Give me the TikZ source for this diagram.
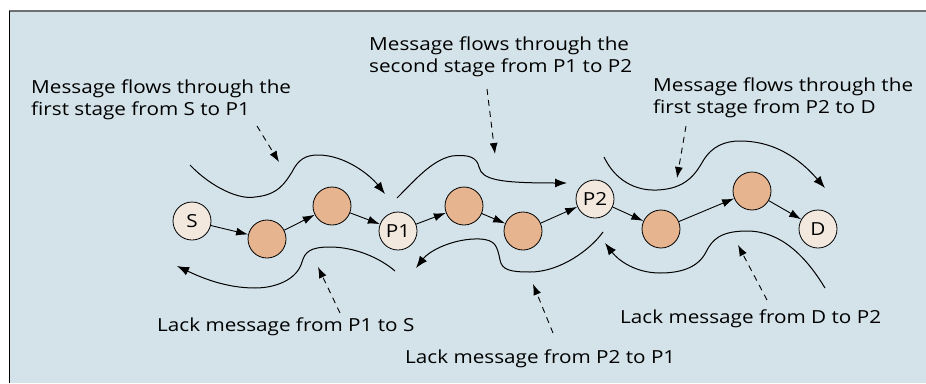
\documentclass[tikz,border=0pt]{standalone}
\usepackage{fontspec}
\setmainfont[FakeStretch=1.15]{Open Sans}
\usetikzlibrary{arrows.meta}
\definecolor{fondo}{HTML}{D4E3E9}
\definecolor{naranja}{HTML}{E6B48E}
\definecolor{crema}{HTML}{F2E8DE}
\definecolor{marco}{HTML}{6E7173}

\begin{document}
\begin{tikzpicture}[x=1pt, y=-1pt,
    nodo/.style={circle, draw, line width=0.8pt, minimum size=38pt, inner sep=0pt, font=\fontsize{18}{20}\selectfont},
    relevo/.style={nodo, fill=naranja},
    extremo/.style={nodo, fill=crema},
    flecha/.style={line width=0.9pt, -{Latex[length=12pt,width=8pt]}},
    curva/.style={line width=1pt, -{Latex[length=12pt,width=9pt]}},
    guia/.style={line width=0.9pt, dash pattern=on 6pt off 5pt, -{Latex[length=11pt,width=8pt]}},
    texto/.style={anchor=west, align=left, inner sep=0pt, font=\fontsize{18}{21.5}\selectfont}]
      %fondo
      \useasboundingbox (0,0) rectangle (926,383);
      \fill[fondo] (9,11) rectangle (926,383);
      \draw[marco, line width=2pt] (9,11) -- (926,11);
      \draw[line width=0.9pt] (9,11) -- (9,383);
      %nodos
      \node[extremo] (s) at (192,221) {S};
      \node[relevo] (a1) at (267,239) {};
      \node[relevo] (a2) at (332,206) {};
      \node[extremo] (p1) at (398,231) {P1};
      \node[relevo] (a3) at (464,206) {};
      \node[relevo] (a4) at (523,231) {};
      \node[extremo] (p2) at (595,199) {P2};
      \node[relevo] (a5) at (661,229) {};
      \node[relevo] (a6) at (752,191) {};
      \node[extremo] (d) at (818,229) {D};
      %camino
      \draw[flecha] (s) -- (a1);
      \draw[flecha] (a1) -- (a2);
      \draw[flecha] (a2) -- (p1);
      \draw[flecha] (p1) -- (a3);
      \draw[flecha] (a3) -- (a4);
      \draw[flecha] (a4) -- (p2);
      \draw[flecha] (p2) -- (a5);
      \draw[flecha] (a5) -- (a6);
      \draw[flecha] (a6) -- (d);
      %flujo del mensaje
      \draw[curva] (190,165) .. controls (212,188) and (240,200) .. (255,197) .. controls (278,195) and (285,183) .. (292,172) .. controls (298,160) and (305,155) .. (318,155) .. controls (345,155) and (370,175) .. (385,194);
      \draw[curva] (397,198) .. controls (415,180) and (432,160) .. (452,156) .. controls (470,154) and (477,158) .. (479,167) .. controls (482,180) and (500,183) .. (567,183);
      \draw[curva] (604,157) .. controls (615,180) and (635,191) .. (657,190) .. controls (685,189) and (695,175) .. (703,161) .. controls (712,146) and (725,141) .. (740,141) .. controls (780,141) and (805,165) .. (825,188);
      %acuses
      \draw[curva] (395,271) .. controls (380,258) and (355,247) .. (330,247) .. controls (310,247) and (305,252) .. (302,262) .. controls (297,280) and (275,288) .. (255,288) .. controls (225,288) and (200,277) .. (177,266);
      \draw[curva] (603,232) .. controls (590,250) and (560,272) .. (530,272) .. controls (510,272) and (502,270) .. (500,260) .. controls (497,245) and (495,240) .. (480,239) .. controls (455,238) and (430,250) .. (416,268);
      \draw[curva] (825,288) .. controls (805,255) and (780,231) .. (747,231) .. controls (720,231) and (712,240) .. (706,252) .. controls (698,268) and (680,273) .. (660,273) .. controls (635,273) and (618,260) .. (605,243);
      %textos
      \node[texto] (t1) at (31,100) {Message flows through the\\first stage from S to P1};
      \node[texto] (t2) at (369,57) {Message flows through the\\second stage from P1 to P2};
      \node[texto] (t3) at (653,98) {Message flows through the\\first stage from P2 to D};
      \node[texto] (b1) at (157,326.5) {Lack message from P1 to S};
      \node[texto] (b2) at (405,358.5) {Lack message from P2 to P1};
      \node[texto] (b3) at (620,318.5) {Lack message from D to P2};
      %guias
      \coordinate (g1) at (257,126);
      \coordinate (h1) at (279,162);
      \coordinate (g2) at (487,89);
      \coordinate (h2) at (495,154);
      \coordinate (g3) at (686,126);
      \coordinate (h3) at (677,178);
      \coordinate (g4) at (340,313);
      \coordinate (h4) at (318,267);
      \coordinate (g5) at (553,333);
      \coordinate (h5) at (533,284);
      \coordinate (g6) at (767,300);
      \coordinate (h6) at (738,245);
      \draw[guia] (g1) -- (h1);
      \draw[guia] (g2) -- (h2);
      \draw[guia] (g3) -- (h3);
      \draw[guia] (g4) -- (h4);
      \draw[guia] (g5) -- (h5);
      \draw[guia] (g6) -- (h6);
\end{tikzpicture}
\end{document}
